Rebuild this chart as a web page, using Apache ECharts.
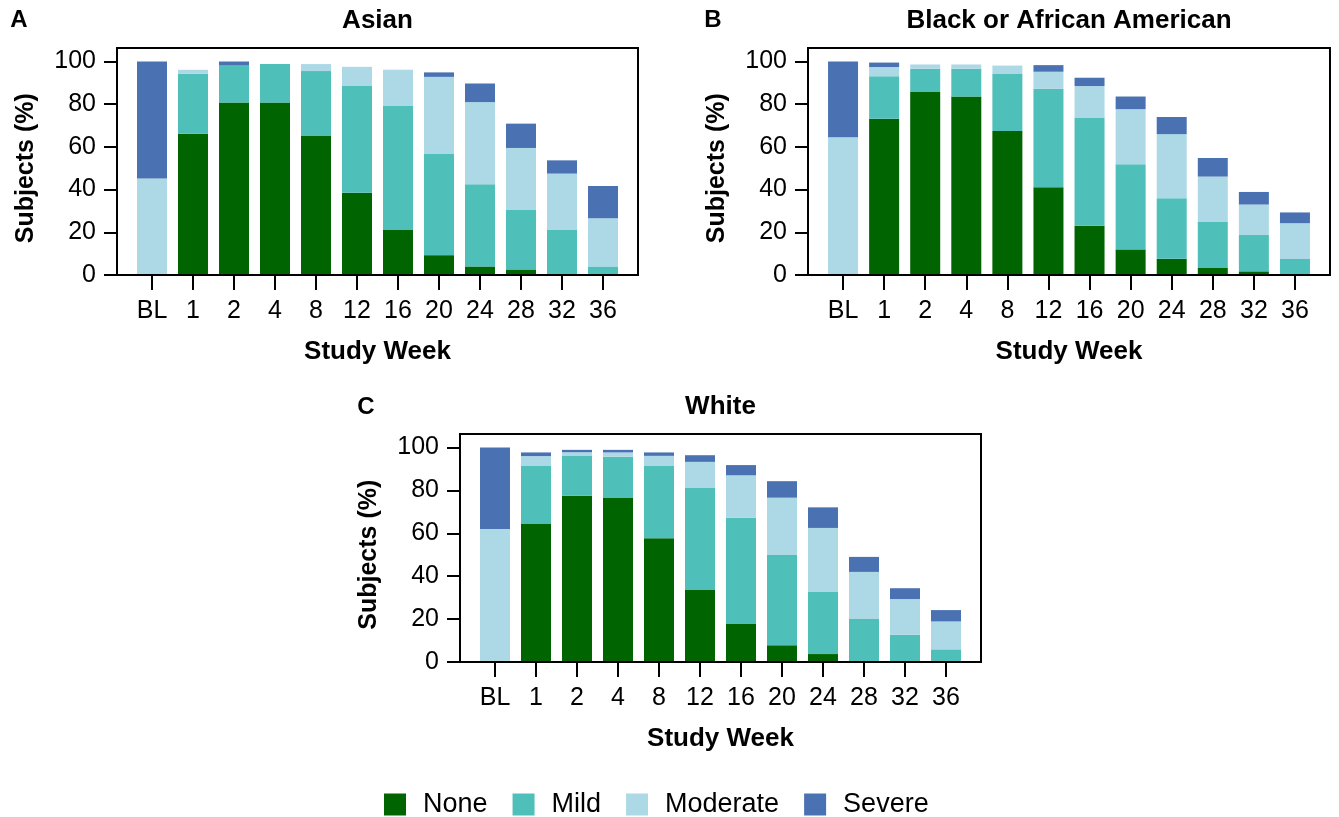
<!DOCTYPE html>
<html>
<head>
<meta charset="utf-8">
<script src="https://cdn.jsdelivr.net/npm/echarts@6/dist/echarts.min.js"></script>
<style>
html,body{margin:0;padding:0;background:#fff;}
#chart{width:1339px;height:817px;}
</style>
</head>
<body>
<div id="chart"></div>
<script>
const categories = ['BL','1','2','4','8','12','16','20','24','28','32','36'];
const yTicks = [0, 20, 40, 60, 80, 100];
const severityNames = ['None','Mild','Moderate','Severe'];
const panelTitles = ['Asian','Black or African American','White'];
const panelLetters = ['A','B','C'];

const asianNone     = [0, 66.2, 80.8, 80.8, 65.1, 38.5, 21.3, 9.3, 4.0, 2.6, 0, 0];
const asianMild     = [0, 28.0, 17.3, 18.0, 30.4, 50.3, 58.1, 47.6, 38.5, 27.8, 21.3, 4.0];
const asianModerate = [45.2, 1.9, 0, 0, 3.3, 8.7, 16.7, 35.9, 38.5, 29.1, 26.2, 22.6];
const asianSevere   = [54.8, 0, 1.9, 0, 0, 0, 0, 2.1, 8.7, 11.4, 6.2, 15.1];

const blackNone     = [0, 73.2, 85.7, 83.6, 67.4, 41.1, 23.1, 12.0, 7.6, 3.3, 1.7, 0];
const blackMild     = [0, 19.9, 10.9, 13.0, 27.0, 46.1, 50.7, 39.9, 28.4, 21.8, 17.0, 7.5];
const blackModerate = [64.5, 4.3, 2.0, 2.0, 3.7, 8.0, 14.7, 25.8, 30.0, 21.0, 14.3, 16.8];
const blackSevere   = [35.5, 2.1, 0, 0, 0, 3.1, 3.9, 5.9, 8.0, 8.7, 5.9, 5.0];

const whiteNone     = [0, 64.3, 77.5, 76.7, 57.7, 33.8, 17.7, 7.8, 3.7, 0, 0, 0];
const whiteMild     = [0, 27.3, 18.8, 19.0, 33.9, 47.6, 49.6, 42.3, 28.9, 20.3, 12.7, 5.9];
const whiteModerate = [62.0, 4.4, 1.5, 2.0, 4.5, 11.9, 19.7, 26.5, 29.9, 21.7, 16.6, 13.0];
const whiteSevere   = [38.0, 1.7, 1.1, 1.2, 1.6, 3.1, 4.8, 7.7, 9.6, 7.0, 5.1, 5.3];

const panelData = [
  [asianNone, asianMild, asianModerate, asianSevere],
  [blackNone, blackMild, blackModerate, blackSevere],
  [whiteNone, whiteMild, whiteModerate, whiteSevere]
];

// ---- styling / layout (not data) ----
const colors = ['#006400', '#4fbfba', '#add8e6', '#4a72b2'];
const FONT = '"Liberation Sans", Arial, Helvetica, sans-serif';
const boxes = [
  {x: 117, y: 48, w: 521, h: 227},
  {x: 808, y: 48, w: 522, h: 227},
  {x: 460, y: 434, w: 521, h: 228}
];
const insetX = 14.5;   // gap between frame and first/last category band
const insetTop = 13.5; // gap between frame top and the 100 level

const grids = [], xAxes = [], yAxes = [], series = [], graphics = [];

boxes.forEach((b, p) => {
  // frame grid
  grids.push({left: b.x, top: b.y, width: b.w, height: b.h, show: true,
    borderColor: '#000', borderWidth: 2, backgroundColor: 'transparent', z: 3,
    containLabel: false, outerBoundsMode: 'none'});
  xAxes.push({gridIndex: 2*p, type: 'value', show: false, min: 0, max: 1});
  yAxes.push({gridIndex: 2*p, type: 'value', show: false, min: 0, max: 1});
  // data grid
  grids.push({left: b.x + insetX, top: b.y + insetTop, width: b.w - 2*insetX, height: b.h - insetTop,
    containLabel: false, outerBoundsMode: 'none'});
  xAxes.push({
    gridIndex: 2*p + 1, type: 'category', data: categories,
    name: 'Study Week', nameLocation: 'middle', nameGap: 64,
    nameTextStyle: {fontFamily: FONT, fontSize: 26, fontWeight: 'bold', color: '#000'},
    axisLine: {show: false},
    axisTick: {show: true, alignWithLabel: true, length: 15, lineStyle: {color: '#000', width: 2}},
    axisLabel: {fontFamily: FONT, fontSize: 25, color: '#000', margin: 24, interval: 0},
    splitLine: {show: false}
  });
  yAxes.push({
    gridIndex: 2*p + 1, type: 'value', min: 0, max: 100, interval: 20,
    offset: insetX,
    name: 'Subjects (%)', nameLocation: 'middle', nameGap: 78,
    nameTextStyle: {fontFamily: FONT, fontSize: 25, fontWeight: 'bold', color: '#000'},
    axisLine: {show: false},
    axisTick: {show: true, length: 13, lineStyle: {color: '#000', width: 2}},
    axisLabel: {fontFamily: FONT, fontSize: 25, color: '#000', margin: 21},
    splitLine: {show: false}
  });
  severityNames.forEach((name, s) => {
    series.push({
      type: 'bar', name: name, stack: 'panel' + p,
      xAxisIndex: 2*p + 1, yAxisIndex: 2*p + 1,
      data: panelData[p][s], barWidth: 30,
      itemStyle: {color: colors[s]},
      emphasis: {disabled: true}, animation: false
    });
  });
  graphics.push({type: 'text', x: b.x + b.w/2, y: b.y - 27, style: {
    text: panelTitles[p], fill: '#000', font: 'bold 26px ' + FONT, align: 'center', verticalAlign: 'middle'}});
});

graphics.push({type: 'text', x: 19, y: 20, style: {text: panelLetters[0], fill: '#000', font: 'bold 24px ' + FONT, align: 'center', verticalAlign: 'middle'}});
graphics.push({type: 'text', x: 713, y: 20, style: {text: panelLetters[1], fill: '#000', font: 'bold 24px ' + FONT, align: 'center', verticalAlign: 'middle'}});
graphics.push({type: 'text', x: 366, y: 407, style: {text: panelLetters[2], fill: '#000', font: 'bold 24px ' + FONT, align: 'center', verticalAlign: 'middle'}});

const chart = echarts.init(document.getElementById('chart'), null, {renderer: 'canvas'});
chart.setOption({
  animation: false,
  backgroundColor: '#fff',
  grid: grids,
  xAxis: xAxes,
  yAxis: yAxes,
  series: series,
  graphic: graphics,
  legend: {
    data: severityNames, left: 379, top: 786, orient: 'horizontal',
    icon: 'rect', itemWidth: 22, itemHeight: 22, itemGap: 25,
    textStyle: {fontFamily: FONT, fontSize: 27, color: '#000', padding: [0, 0, 0, 12]},
    selectedMode: false
  }
});
</script>
</body>
</html>
